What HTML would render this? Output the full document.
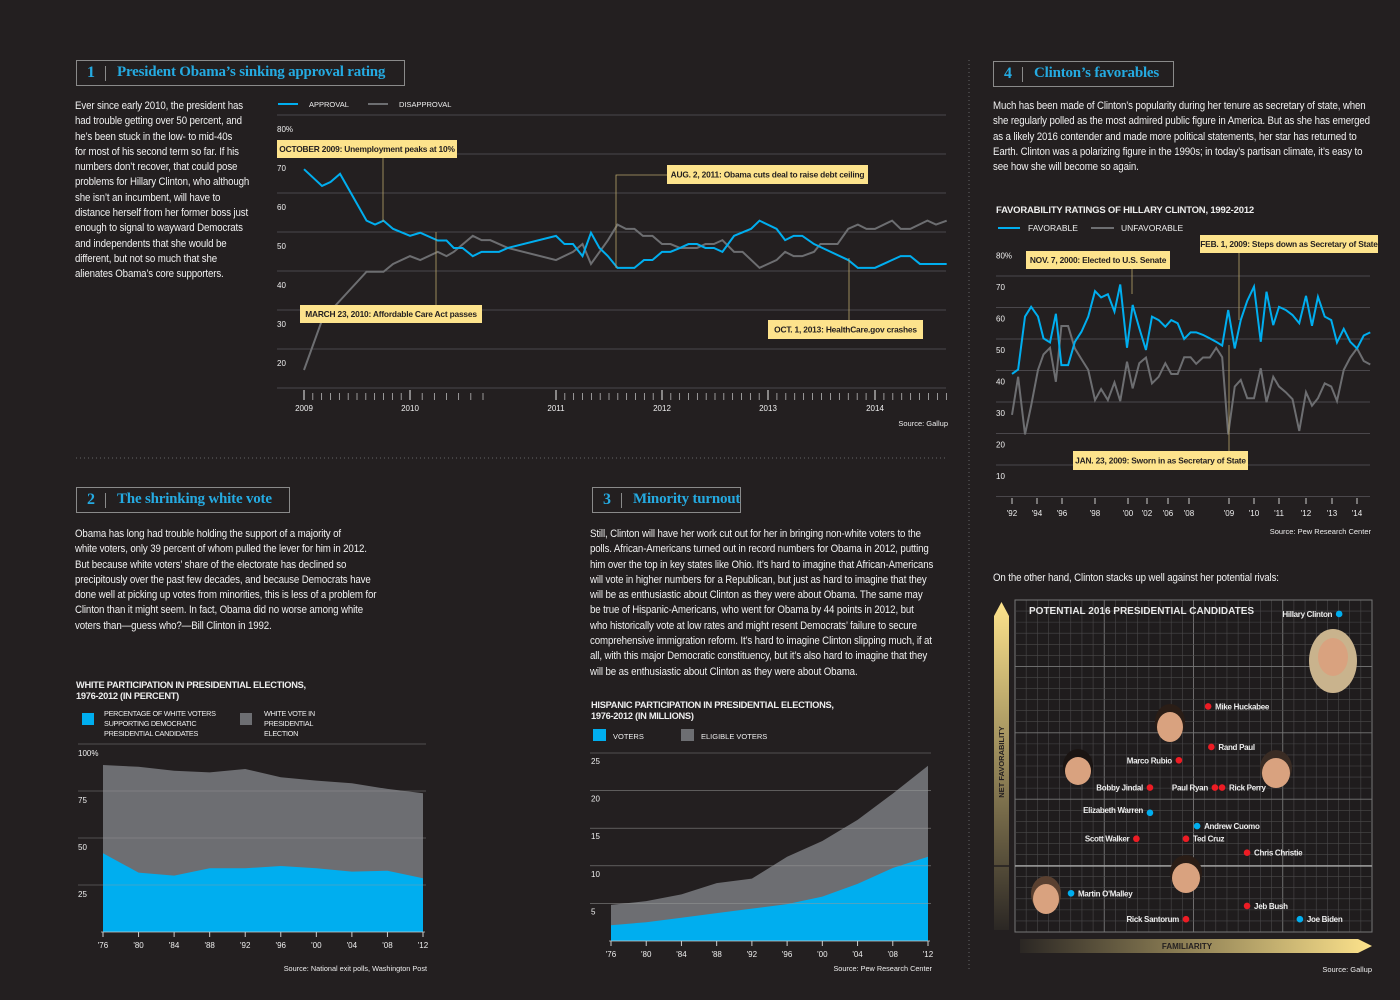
<!DOCTYPE html>
<html><head><meta charset="utf-8">
<style>
html,body{margin:0;padding:0;background:#231f20;}
#page{position:relative;width:1400px;height:1000px;overflow:hidden;background:#231f20;font-family:"Liberation Sans Narrow","Liberation Sans",sans-serif;color:#f2f2f2;}
.hdr{position:absolute;border:1.5px solid #8a8a8a;height:26px;box-sizing:border-box;}
.hdr .num{position:absolute;left:10px;top:3px;font:bold 16px "Liberation Serif",serif;color:#25aae1;}
.hdr .bar{position:absolute;left:28px;top:5px;width:1px;height:15px;background:#8a8a8a;}
.hdr .ttl{position:absolute;left:40px;top:3px;font:bold 15px "Liberation Serif",serif;color:#25aae1;white-space:nowrap;letter-spacing:-0.2px;}
.body{position:absolute;font-size:10.8px;line-height:15.3px;white-space:nowrap;color:#f0f0f0;letter-spacing:-0.15px;transform:scaleX(0.9);transform-origin:0 0;}
svg{position:absolute;left:0;top:0;}
svg text{font-family:"Liberation Sans Narrow","Liberation Sans",sans-serif;}
</style></head>
<body>
<div id="page">
<svg id="svg" width="1400" height="1000"></svg>

<div class="hdr" style="left:76px;top:60px;width:329px;"><span class="num">1</span><span class="bar"></span><span class="ttl">President Obama’s sinking approval rating</span></div>
<div class="body" style="left:75px;top:99px;">Ever since early 2010, the president has<br>had trouble getting over 50 percent, and<br>he’s been stuck in the low- to mid-40s<br>for most of his second term so far. If his<br>numbers don’t recover, that could pose<br>problems for Hillary Clinton, who although<br>she isn’t an incumbent, will have to<br>distance herself from her former boss just<br>enough to signal to wayward Democrats<br>and independents that she would be<br>different, but not so much that she<br>alienates Obama’s core supporters.</div>

<div class="hdr" style="left:993px;top:61px;width:181px;"><span class="num">4</span><span class="bar"></span><span class="ttl">Clinton’s favorables</span></div>
<div class="body" style="left:993px;top:99px;">Much has been made of Clinton’s popularity during her tenure as secretary of state, when<br>she regularly polled as the most admired public figure in America. But as she has emerged<br>as a likely 2016 contender and made more political statements, her star has returned to<br>Earth. Clinton was a polarizing figure in the 1990s; in today’s partisan climate, it’s easy to<br>see how she will become so again.</div>

<div class="hdr" style="left:76px;top:487px;width:214px;"><span class="num">2</span><span class="bar"></span><span class="ttl">The shrinking white vote</span></div>
<div class="body" style="left:75px;top:527px;">Obama has long had trouble holding the support of a majority of<br>white voters, only 39 percent of whom pulled the lever for him in 2012.<br>But because white voters’ share of the electorate has declined so<br>precipitously over the past few decades, and because Democrats have<br>done well at picking up votes from minorities, this is less of a problem for<br>Clinton than it might seem. In fact, Obama did no worse among white<br>voters than—guess who?—Bill Clinton in 1992.</div>

<div class="hdr" style="left:592px;top:487px;width:149px;"><span class="num">3</span><span class="bar"></span><span class="ttl">Minority turnout</span></div>
<div class="body" style="left:590px;top:527px;">Still, Clinton will have her work cut out for her in bringing non-white voters to the<br>polls. African-Americans turned out in record numbers for Obama in 2012, putting<br>him over the top in key states like Ohio. It’s hard to imagine that African-Americans<br>will vote in higher numbers for a Republican, but just as hard to imagine that they<br>will be as enthusiastic about Clinton as they were about Obama. The same may<br>be true of Hispanic-Americans, who went for Obama by 44 points in 2012, but<br>who historically vote at low rates and might resent Democrats’ failure to secure<br>comprehensive immigration reform. It’s hard to imagine Clinton slipping much, if at<br>all, with this major Democratic constituency, but it’s also hard to imagine that they<br>will be as enthusiastic about Clinton as they were about Obama.</div>

<div class="body" style="left:993px;top:571px;">On the other hand, Clinton stacks up well against her potential rivals:</div>
</div>

<script>
// ---------- Chart 1: Obama approval ----------
const approvalDates = [2009.0,2009.17,2009.25,2009.34,2009.59,2009.67,2009.75,2009.84,2010.0,2010.07,2010.19,2010.25,2010.30,2010.36,2010.43,2010.49,2010.61,2010.67,2011.0,2011.08,2011.16,2011.25,2011.33,2011.41,2011.49,2011.58,2011.74,2011.83,2011.91,2012.0,2012.08,2012.17,2012.25,2012.33,2012.41,2012.49,2012.57,2012.68,2012.84,2012.92,2013.08,2013.16,2013.24,2013.32,2013.43,2013.75,2013.84,2014.0,2014.24,2014.33,2014.42,2014.67];
const approvalValues = [69.7,65.4,66.4,68.5,56.5,55.5,56.5,54.4,52.6,53.4,51.4,51.4,49.5,49.5,47.4,48.5,48.5,49.5,52.6,50.5,50.5,47.4,53.4,49.5,47.4,44.4,44.4,46.4,46.4,48.5,48.5,49.5,50.5,50.5,49.5,49.5,48.5,52.6,54.4,56.5,54.4,51.5,52.6,52.6,50.5,46.4,44.4,44.4,47.4,47.4,45.4,45.4];
const disapprovalDates = [2009.0,2009.17,2009.59,2009.75,2009.84,2010.0,2010.07,2010.19,2010.25,2010.30,2010.43,2010.49,2010.55,2010.67,2011.0,2011.16,2011.25,2011.33,2011.49,2011.58,2011.66,2011.74,2011.82,2011.91,2012.0,2012.08,2012.17,2012.33,2012.41,2012.49,2012.57,2012.68,2012.76,2012.92,2013.08,2013.16,2013.24,2013.32,2013.43,2013.49,2013.65,2013.75,2013.84,2013.92,2014.0,2014.16,2014.24,2014.33,2014.49,2014.57,2014.67];
const disapprovalValues = [18.2,31.0,43.4,43.4,45.4,47.4,46.4,48.5,47.4,48.5,52.6,51.5,51.5,49.5,46.4,48.5,50.5,45.4,51.5,55.5,54.4,54.4,52.6,52.6,50.5,50.5,49.5,49.5,50.5,50.5,51.5,48.5,48.5,44.4,46.4,48.5,47.4,47.4,48.5,50.5,50.5,54.4,55.5,54.4,54.4,56.5,54.4,54.4,56.5,55.5,56.5];
const c1YearTicks = [2009,2010,2011,2012,2013,2014];
const c1ValueTicks = [80,70,60,50,40,30,20];

// ---------- Chart 4: Clinton favorability ----------
const favDates = [1992.0,1992.49,1993.04,1993.53,1994.08,1994.52,1995.04,1995.51,1995.95,1996.37,1996.78,1997.18,1997.59,1998.0,1998.37,1998.78,1999.18,1999.53,1999.94,2000.49,2001.19,2001.89,2002.95,2004.22,2005.49,2006.31,2006.92,2007.54,2008.04,2008.18,2008.35,2008.52,2008.68,2008.83,2008.98,2009.23,2009.47,2009.73,2010.0,2010.27,2010.5,2010.77,2011.0,2011.25,2011.5,2011.75,2012.0,2012.23,2012.46,2012.72,2012.97,2013.2,2013.47,2013.73,2014.0,2014.27,2014.53];
const favorableValues = [42.4,43.8,60.6,63.7,60.6,53.7,52.4,61.5,45.2,45.2,52.6,55.8,60.6,68.7,66.7,67.7,62.2,70.8,50.7,64.3,56.9,50.0,60.6,59.5,57.4,59.5,58.5,53.5,55.6,55.6,54.8,53.7,52.6,51.4,62.7,50.5,59.5,65.6,70.1,52.6,68.5,57.9,63.7,62.7,61.1,58.5,67.2,57.7,66.9,60.6,59.5,52.4,56.7,52.6,50.5,54.6,55.6];
const unfavorableValues = [29.4,41.5,23.2,32.3,43.7,48.6,50.7,39.9,57.6,57.6,50.5,47.1,43.7,34.1,37.6,34.1,39.7,33.8,46.3,37.8,45.8,47.6,39.4,41.5,45.8,42.4,42.4,47.7,47.7,45.6,47.6,47.6,50.7,47.7,23.2,38.4,40.5,34.7,34.7,44.2,33.4,41.5,38.4,36.6,34.4,24.3,36.6,32.3,34.7,39.4,38.4,33.8,43.7,47.6,50.5,46.5,45.4];
const c4YearTicks = [1992,1994,1996,1998,2000,2002,2006,2008,2009,2010,2011,2012,2013,2014];
const c4TickLabels = ["'92","'94","'96","'98","'00","'02","'06","'08","'09","'10","'11","'12","'13","'14"];
const c4ValueTicks = [80,70,60,50,40,30,20,10];

// ---------- Chart 2: White participation ----------
const electionYears = [1976,1980,1984,1988,1992,1996,2000,2004,2008,2012];
const electionLabels = ["'76","'80","'84","'88","'92","'96","'00","'04","'08","'12"];
const whiteVoteShare = [88.8,87.9,85.8,84.9,86.7,82.3,80.5,79.1,76.1,73.8];
const whiteDemSupport = [41.9,31.6,30.0,33.9,33.9,35.1,33.9,32.1,32.6,28.6];
const c2ValueTicks = [100,75,50,25];

// ---------- Chart 3: Hispanic participation ----------
const hispanicEligible = [4.8,5.3,6.2,7.7,8.3,11.2,13.3,16.1,19.6,23.3];
const hispanicVoters = [2.1,2.5,3.1,3.7,4.3,4.9,5.9,7.6,9.7,11.2];
const c3ValueTicks = [25,20,15,10,5];

// ---------- Scatter: 2016 candidates ----------
const candNames = ["Hillary Clinton","Mike Huckabee","Rand Paul","Marco Rubio","Bobby Jindal","Paul Ryan","Rick Perry","Elizabeth Warren","Andrew Cuomo","Scott Walker","Ted Cruz","Chris Christie","Martin O'Malley","Jeb Bush","Joe Biden","Rick Santorum"];
const candFamiliarity = [90.8,54.1,55.0,45.9,37.8,56.0,58.0,37.8,51.0,34.0,47.9,65.0,15.7,65.0,79.8,47.9];
const candNetFav = [37.9,24.0,17.9,15.9,11.8,11.8,11.8,8.0,6.0,4.1,4.1,2.0,-4.1,-6.0,-8.0,-8.0];
const candParty = ["D","R","R","R","R","R","R","D","D","R","R","R","D","R","D","R"];

const NS = "http://www.w3.org/2000/svg";
const svg = document.getElementById("svg");
function el(tag, attrs, parent){ const e=document.createElementNS(NS,tag); for(const k in attrs) e.setAttribute(k,attrs[k]); (parent||svg).appendChild(e); return e; }
function txt(x,y,s,attrs,parent){ const t=el("text",Object.assign({x:x,y:y,fill:"#eee","font-size":8},attrs||{}),parent); t.textContent=s; return t; }
function pw(v,keys,px,slopeEnd){ if(v<=keys[0]) return px[0]-(keys[0]-v)*(px[1]-px[0])/(keys[1]-keys[0]);
  for(let i=0;i<keys.length-1;i++){ if(v<=keys[i+1]) return px[i]+(v-keys[i])/(keys[i+1]-keys[i])*(px[i+1]-px[i]); }
  return px[px.length-1]+(v-keys[keys.length-1])*slopeEnd; }
const BLUE="#00aeef", GRAY="#6d6e71", GRID="#58565a", YEL="#fde38c";

const dv=el("line",{x1:969,y1:60,x2:969,y2:972,stroke:"#666","stroke-dasharray":"1,3"});


const dh=el("line",{x1:76,y1:458,x2:945,y2:458,stroke:"#666","stroke-dasharray":"1,3"});



function annot(x,y,w,h,label,name){
  const g=el("g",{});
  
  
  el("rect",{x:x,y:y,width:w,height:h,fill:YEL},g);
  txt(x+w/2,y+h/2+3,label,{fill:"#231f20","font-size":8.4,"font-weight":"bold","text-anchor":"middle","letter-spacing":"-0.2"},g);
  return g;
}
function leader(pts,name){ const p=el("polyline",{points:pts,fill:"none",stroke:"#b8a46a","stroke-width":0.8});
  
   }

// ===== Chart 1 =====
(function(){
  const g=el("g",{});
  
  
  const yrPx=[304,410,556,662,768,875];
  const X=d=>pw(d,c1YearTicks,yrPx,107);
  const Y=v=>168-(v-70)*3.9;
  for(let v=10;v<=80;v+=10){ const l=el("line",{x1:277,x2:946,y1:Y(v)-14,y2:Y(v)-14,stroke:GRID,"stroke-width":0.8},g);
      }
  c1ValueTicks.forEach(v=>{ const t=txt(277,Y(v)+3,v===80?"80%":String(v),{"font-size":8},g);
      });
  for(let m=2009;m<=2014.68;m+=1/12){ if(m>2010.56&&m<2010.99) continue; const x=X(m); const major=Math.abs(m-Math.round(m))<0.01;
    el("line",{x1:x,x2:x,y1:major?390:393,y2:400,stroke:"#ccc","stroke-width":major?1.2:0.7},g); }
  c1YearTicks.forEach(yv=>{ const t=txt(X(yv),411,String(yv),{"font-size":8,"text-anchor":"middle"},g);
      });
  el("line",{x1:278,x2:298,y1:104,y2:104,stroke:BLUE,"stroke-width":2},g);
  txt(309,107,"APPROVAL",{"font-size":7.5},g);
  el("line",{x1:368,x2:388,y1:104,y2:104,stroke:GRAY,"stroke-width":2},g);
  txt(399,107,"DISAPPROVAL",{"font-size":7.5},g);
  const dp=el("polyline",{points:disapprovalDates.map((d,i)=>X(d)+","+Y(disapprovalValues[i])).join(" "),fill:"none",stroke:GRAY,"stroke-width":2},g);
  
  
  const ap=el("polyline",{points:approvalDates.map((d,i)=>X(d)+","+Y(approvalValues[i])).join(" "),fill:"none",stroke:BLUE,"stroke-width":2},g);
  
  
  leader("383,158 383,222","annotation-leader");
  leader("436,232 436,305","annotation-leader");
  leader("667,175 616,175 616,268","annotation-leader");
  leader("849,258 849,320","annotation-leader");
  annot(277,140,180,18,"OCTOBER 2009: Unemployment peaks at 10%","annotation-oct-2009");
  annot(300,305,182,18,"MARCH 23, 2010: Affordable Care Act passes","annotation-mar-2010");
  annot(667,165,201,19,"AUG. 2, 2011: Obama cuts deal to raise debt ceiling","annotation-aug-2011");
  annot(768,320,155,19,"OCT. 1, 2013: HealthCare.gov crashes","annotation-oct-2013");
  const s=txt(948,426,"Source: Gallup",{"font-size":7.5,"text-anchor":"end"},g);
   
})();

// ===== Chart 4 =====
(function(){
  const g=el("g",{});
  
  
  const px=[1012,1037,1062,1095,1128,1147,1168,1189,1229,1254,1279,1306,1332,1357];
  const X=d=>pw(d,c4YearTicks,px,25);
  const Y=v=>287-(v-70)*3.15;
  txt(996,213,"FAVORABILITY RATINGS OF HILLARY CLINTON, 1992-2012",{"font-size":9.5,"font-weight":"bold","letter-spacing":"-0.2"},g);
  el("line",{x1:998,x2:1020,y1:228,y2:228,stroke:BLUE,"stroke-width":2},g);
  txt(1028,231,"FAVORABLE",{"font-size":8.5},g);
  el("line",{x1:1091,x2:1114,y1:228,y2:228,stroke:GRAY,"stroke-width":2},g);
  txt(1121,231,"UNFAVORABLE",{"font-size":8.5},g);
  for(let v=0;v<=70;v+=10){ const l=el("line",{x1:996,x2:1370,y1:Y(v)-11,y2:Y(v)-11,stroke:GRID,"stroke-width":0.8},g);
      }
  c4ValueTicks.forEach(v=>{ const t=txt(996,Y(v)+3,v===80?"80%":String(v),{"font-size":8},g);
      });
  c4YearTicks.forEach((yv,i)=>{ el("line",{x1:X(yv),x2:X(yv),y1:498,y2:504,stroke:"#ccc"},g);
    const t=txt(X(yv),516,c4TickLabels[i],{"font-size":8,"text-anchor":"middle"},g);
      });
  const up=el("polyline",{points:favDates.map((d,i)=>X(d)+","+Y(unfavorableValues[i])).join(" "),fill:"none",stroke:GRAY,"stroke-width":2},g);
  
  
  const fp=el("polyline",{points:favDates.map((d,i)=>X(d)+","+Y(favorableValues[i])).join(" "),fill:"none",stroke:BLUE,"stroke-width":2},g);
  
  
  leader("1132,269 1132,294","annotation-leader");
  leader("1239,253 1239,320","annotation-leader");
  leader("1229,345 1229,451","annotation-leader");
  annot(1026,251,144,18,"NOV. 7, 2000: Elected to U.S. Senate","annotation-nov-2000");
  annot(1200,235,178,18,"FEB. 1, 2009: Steps down as Secretary of State","annotation-feb-2009");
  annot(1073,451,175,19,"JAN. 23, 2009: Sworn in as Secretary of State","annotation-jan-2009");
  txt(1371,534,"Source: Pew Research Center",{"font-size":7.5,"text-anchor":"end"},g);
})();

function areaChart(opt){
  const g=el("g",{});
  
  
  const X=yr=>opt.x0+(yr-1976)/36*(opt.x1-opt.x0);
  const Y=v=>opt.base-v*opt.k;
  const top=electionYears.map((y,i)=>X(y)+","+Y(opt.back[i])).join(" ");
  const a1=el("polygon",{points:X(1976)+","+opt.base+" "+top+" "+X(2012)+","+opt.base,fill:"#6d6e72"},g);
  
  
  const fr=electionYears.map((y,i)=>X(y)+","+Y(opt.front[i])).join(" ");
  const a2=el("polygon",{points:X(1976)+","+opt.base+" "+fr+" "+X(2012)+","+opt.base,fill:BLUE},g);
  
  
  opt.ticks.forEach(v=>{ const l=el("line",{x1:opt.gx0,x2:opt.gx1,y1:Y(v),y2:Y(v),stroke:"#9a9a9a","stroke-width":0.6,"stroke-opacity":0.8},g);
     
    const t=txt(opt.lx,Y(v)+opt.lOff,(v===opt.ticks[0]&&opt.pct)?v+"%":String(v),{"font-size":8},g);
      });
  el("line",{x1:X(1976)-2,x2:X(2012)+2,y1:opt.base,y2:opt.base,stroke:"#ccc","stroke-width":0.8},g);
  electionYears.forEach((y,i)=>{ el("line",{x1:X(y),x2:X(y),y1:opt.base,y2:opt.base+5,stroke:"#ccc"},g);
    const t=txt(X(y),opt.base+16,electionLabels[i],{"font-size":8,"text-anchor":"middle"},g);
      });
  return g;
}
(function(){
  const g=areaChart({name:"white-participation-chart",x0:103,x1:423,base:932,k:1.88,back:whiteVoteShare,front:whiteDemSupport,
    backName:"white-vote-area",frontName:"white-dem-support-area",ticks:c2ValueTicks,gx0:78,gx1:426,lx:78,lOff:12,pct:true});
  txt(76,688,"WHITE PARTICIPATION IN PRESIDENTIAL ELECTIONS,",{"font-size":9.3,"font-weight":"bold","letter-spacing":"-0.3"},g);
  txt(76,699,"1976-2012 (IN PERCENT)",{"font-size":9.3,"font-weight":"bold","letter-spacing":"-0.3"},g);
  el("rect",{x:82,y:713,width:12,height:12,fill:BLUE},g);
  el("rect",{x:240,y:713,width:12,height:12,fill:"#6d6e72"},g);
  ["PERCENTAGE OF WHITE VOTERS","SUPPORTING DEMOCRATIC","PRESIDENTIAL CANDIDATES"].forEach((s,i)=>txt(104,716+i*10,s,{"font-size":7.3,"letter-spacing":"-0.3"},g));
  ["WHITE VOTE IN","PRESIDENTIAL","ELECTION"].forEach((s,i)=>txt(264,716+i*10,s,{"font-size":7.3,"letter-spacing":"-0.3"},g));
  txt(427,971,"Source: National exit polls, Washington Post",{"font-size":7.3,"text-anchor":"end"},g);
})();
(function(){
  const g=areaChart({name:"hispanic-participation-chart",x0:611,x1:928,base:941,k:7.52,back:hispanicEligible,front:hispanicVoters,
    backName:"eligible-voters-area",frontName:"voters-area",ticks:c3ValueTicks,gx0:590,gx1:931,lx:591,lOff:11,pct:false});
  txt(591,708,"HISPANIC PARTICIPATION IN PRESIDENTIAL ELECTIONS,",{"font-size":9.3,"font-weight":"bold","letter-spacing":"-0.3"},g);
  txt(591,719,"1976-2012 (IN MILLIONS)",{"font-size":9.3,"font-weight":"bold","letter-spacing":"-0.3"},g);
  el("rect",{x:593,y:729,width:13,height:12,fill:BLUE},g);
  el("rect",{x:681,y:729,width:13,height:12,fill:"#6d6e72"},g);
  txt(613,739,"VOTERS",{"font-size":7.5},g);
  txt(701,739,"ELIGIBLE VOTERS",{"font-size":7.5},g);
  txt(932,971,"Source: Pew Research Center",{"font-size":7.3,"text-anchor":"end"},g);
})();

(function(){
  const g=el("g",{});
  
  
  const L=1015,R=1372,T=600,B=932;
  const X=f=>L+f/100*(R-L);
  const Y=n=>866-n*6.65;
  const defs=el("defs",{},g);
  const lg1=el("linearGradient",{id:"gv",x1:0,y1:0,x2:0,y2:1},defs);
  el("stop",{offset:"0","stop-color":"#fde38c"},lg1); el("stop",{offset:"1","stop-color":"#2b2724"},lg1);
  const lg2=el("linearGradient",{id:"gh",x1:0,y1:0,x2:1,y2:0},defs);
  el("stop",{offset:"0","stop-color":"#2b2724"},lg2); el("stop",{offset:"1","stop-color":"#fde38c"},lg2);
  el("rect",{x:L,y:T,width:R-L,height:B-T,fill:"#1f1c1d",stroke:"#777"},g);
  for(let i=0;i<=32;i++){ const x=L+i*(R-L)/32; el("line",{x1:x,x2:x,y1:T,y2:B,stroke:i%8===0?"#777":"#4a484a","stroke-width":i%8===0?0.9:0.6},g); }
  for(let j=0;j<=30;j++){ const y=T+j*(B-T)/30; el("line",{x1:L,x2:R,y1:y,y2:y,stroke:j%6===0?"#777":"#4a484a","stroke-width":j%6===0?0.9:0.6},g); }
  const ax=el("line",{x1:L,x2:R,y1:Y(0),y2:Y(0),stroke:"#aaa","stroke-width":1.2},g);
   
  const va=el("path",{d:"M994,616 L1001.5,602 L1009,616 L1009,930 L994,930 Z",fill:"url(#gv)"},g);
   
  el("line",{x1:994,x2:1009,y1:866,y2:866,stroke:"#231f20","stroke-width":1.5},g);
  const ha=el("path",{d:"M1020,939 L1358,939 L1372,946 L1358,953 L1020,953 Z",fill:"url(#gh)"},g);
   
  txt(1187,949,"FAMILIARITY",{"font-size":8,"font-weight":"bold","fill":"#231f20","text-anchor":"middle"},g);
  txt(0,0,"NET FAVORABILITY",{"font-size":7.5,"font-weight":"bold","fill":"#231f20","text-anchor":"middle",transform:"translate(1004,762) rotate(-90)"},g);
  txt(1029,614,"POTENTIAL 2016 PRESIDENTIAL CANDIDATES",{"font-size":10,"font-weight":"bold","fill":"#e8e8e8"},g);
  function face(cx,cy,rx,ry,hair,name,long){ const f=el("g",{},g);
    
    
    if(long) el("ellipse",{cx:cx,cy:cy+6,rx:rx+8,ry:ry+10,fill:hair},f);
    el("ellipse",{cx:cx,cy:cy-3,rx:rx+1,ry:ry,fill:hair},f);
    el("ellipse",{cx:cx,cy:cy+2,rx:rx-1,ry:ry-3,fill:"#d9a27f"},f); }
  face(1333,655,16,22,"#c9b38d","hillary-clinton-photo",true);
  face(1170,725,14,18,"#2a1d16","marco-rubio-photo");
  face(1078,769,14,17,"#1a1412","bobby-jindal-photo");
  face(1276,771,15,18,"#3a2c24","rick-perry-photo");
  face(1186,876,15,18,"#2a1d16","ted-cruz-photo");
  face(1046,897,14,18,"#5a4030","martin-omalley-photo");
  const leftLabel=["Hillary Clinton","Marco Rubio","Bobby Jindal","Paul Ryan","Elizabeth Warren","Scott Walker","Rick Santorum"];
  candNames.forEach((n,i)=>{ const x=X(candFamiliarity[i]), y=Y(candNetFav[i]);
    const c=el("circle",{cx:x,cy:y,r:3.3,fill:candParty[i]==="D"?BLUE:"#ed1c24"},g);
    
    
    const left=leftLabel.indexOf(n)>=0;
    let lx=left?x-7:x+7, ly=y+3;
    if(n==="Elizabeth Warren"){ ly=y+0; }
    const t=txt(lx,ly,n,{"font-size":8,"font-weight":"bold","text-anchor":left?"end":"start","letter-spacing":"-0.3"},g);
    
     });
  txt(1372,972,"Source: Gallup",{"font-size":7.5,"text-anchor":"end"},g);
})();
</script>
</body></html>
